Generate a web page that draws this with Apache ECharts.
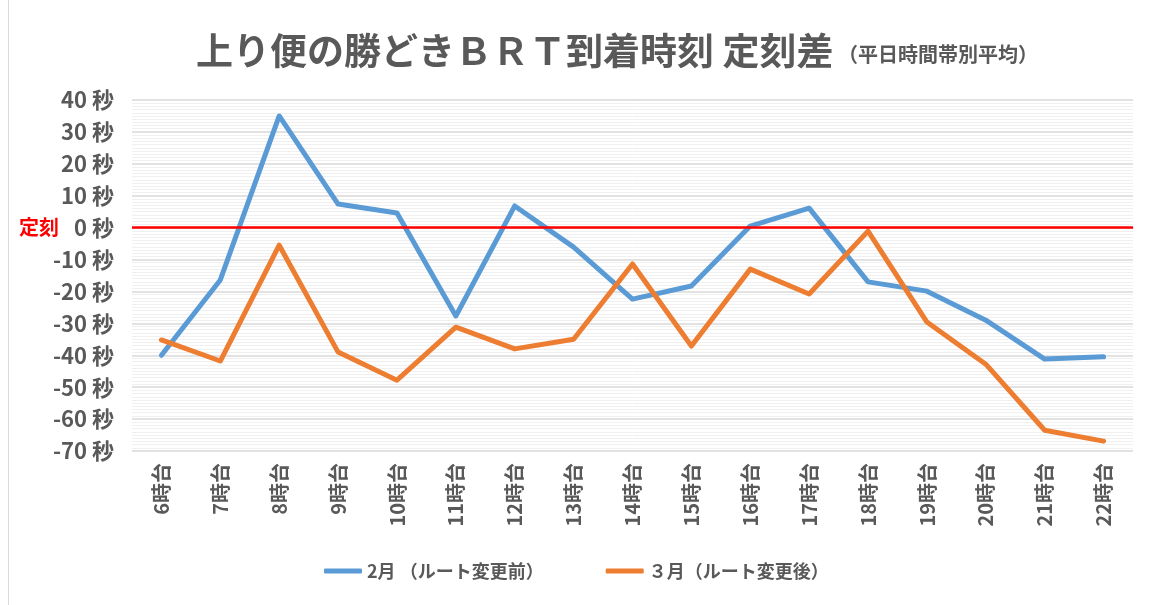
<!DOCTYPE html>
<html>
<head>
<meta charset="utf-8">
<script src="https://cdn.jsdelivr.net/npm/echarts@6/dist/echarts.min.js"></script>
<style>
html,body{margin:0;padding:0;background:#fff;}
#container{position:absolute;left:8px;top:0;width:1155px;height:605px;border-left:1px solid #d9d9d9;box-sizing:border-box;}
</style>
</head>
<body>
<div id="container"></div>
<script>
// 時間帯
var hours = ['6時台','7時台','8時台','9時台','10時台','11時台','12時台','13時台','14時台','15時台','16時台','17時台','18時台','19時台','20時台','21時台','22時台'];
// 2月（ルート変更前）
var febDiff = [-40, -16.4, 35, 7.4, 4.6, -27.7, 6.8, -6.1, -22.4, -18.3, 0.5, 6.1, -17, -19.9, -29, -41.2, -40.5];
// 3月（ルート変更後）
var marDiff = [-35.2, -41.8, -5.5, -39, -47.8, -31.2, -38, -35, -11.4, -37.1, -13, -20.8, -1.1, -29.6, -42.8, -63.5, -66.9];
var seriesNames = ['2月 （ルート変更前）', '３月（ルート変更後）'];

var jpFont = '"Noto Sans CJK JP", "Noto Sans", sans-serif';
var dom = document.getElementById("container");
var myChart = echarts.init(dom);
var option = {
    textStyle: { fontFamily: jpFont },
    title: {
        text: '{main|上り便の勝どきＢＲＴ到着時刻 定刻差}{sub| （平日時間帯別平均）}',
        left: 182,
        top: 27,
        textStyle: {
            rich: {
                main: { fontSize: 37, fontWeight: 'bold', color: '#595959', fontFamily: jpFont },
                sub: { fontSize: 20, fontWeight: 'bold', color: '#595959', fontFamily: jpFont, padding: [8, 0, 0, 0] }
            }
        }
    },
    legend: {
        bottom: 20,
        left: 310,
        itemGap: 62,
        itemWidth: 38,
        itemHeight: 5,
        icon: 'roundRect',
        data: seriesNames,
        textStyle: { fontSize: 18, fontWeight: 'bold', color: '#595959', fontFamily: jpFont }
    },
    grid: { left: 123, right: 30, top: 100, bottom: 154 },
    xAxis: {
        type: 'category',
        data: hours,
        boundaryGap: true,
        axisLine: { lineStyle: { color: '#d9d9d9', width: 1.5 } },
        axisTick: { show: false },
        axisLabel: {
            rotate: 90,
            interval: 0,
            margin: 12,
            fontSize: 20,
            fontWeight: 'bold',
            color: '#595959',
            fontFamily: jpFont
        }
    },
    yAxis: {
        type: 'value',
        min: -70,
        max: 40,
        interval: 10,
        axisLine: { show: false },
        axisTick: { show: false },
        axisLabel: {
            margin: 18,
            fontSize: 22,
            fontWeight: 'bold',
            color: '#595959',
            fontFamily: jpFont,
            formatter: function (v) {
                if (v === 0) return '{r|定刻}   0 秒';
                return v + ' 秒';
            },
            rich: {
                r: { color: '#ff0000', fontSize: 20, fontWeight: 'bold', fontFamily: jpFont }
            }
        },
        splitLine: { lineStyle: { color: '#d9d9d9', width: 1.5 } },
        minorTick: { show: false, splitNumber: 10 },
        minorSplitLine: { show: true, lineStyle: { color: '#f0f0f0', width: 1 } }
    },
    series: [
        {
            name: seriesNames[0],
            type: 'line',
            data: febDiff,
            symbol: 'none',
            z: 3,
            lineStyle: { color: '#5b9bd5', width: 5, join: 'round', cap: 'round' },
            itemStyle: { color: '#5b9bd5' },
            markLine: {
                silent: true,
                symbol: 'none',
                label: { show: false },
                lineStyle: { color: '#ff0000', width: 2.5, type: 'solid' },
                data: [{ yAxis: 0 }]
            }
        },
        {
            name: seriesNames[1],
            type: 'line',
            data: marDiff,
            symbol: 'none',
            z: 4,
            lineStyle: { color: '#ed7d31', width: 5, join: 'round', cap: 'round' },
            itemStyle: { color: '#ed7d31' }
        }
    ]
};
if (option && typeof option === "object") {
    myChart.setOption(option, true);
}
</script>
</body>
</html>
